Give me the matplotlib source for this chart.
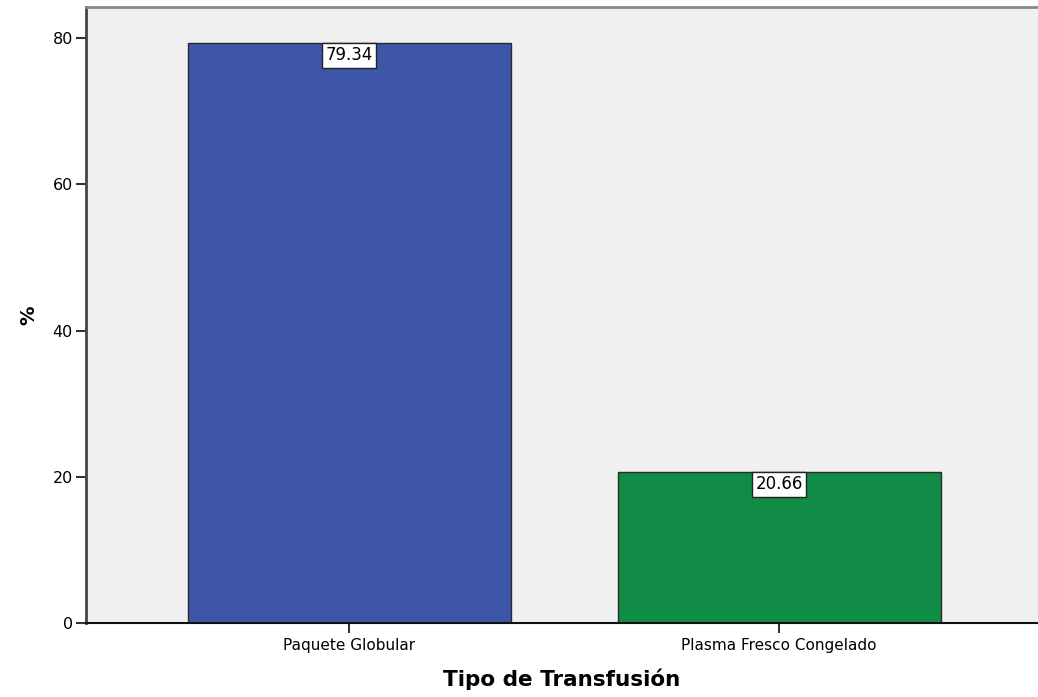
'''SPSS-style bar chart: Tipo de Transfusión.'''
import matplotlib.pyplot as plt

CATEGORIES = ['Paquete Globular', 'Plasma Fresco Congelado']
PERCENTS = [79.34, 20.66]
COLORS = ['#3D56A8', '#118C47']
Y_TICKS = [0, 20, 40, 60, 80]


def main():
    '''Main.'''
    fig = plt.figure(figsize=(10.38, 6.97), dpi=100)
    ax = fig.add_axes([86 / 1038, 74 / 697, 1 - 86 / 1038, 616 / 697])
    ax.set_facecolor('#F0F0F0')

    x = list(range(len(CATEGORIES)))
    ax.bar(x, PERCENTS, width=0.751, color=COLORS,
           edgecolor='#2A2A2A', linewidth=1.0, zorder=2)

    # value labels in white boxes just under the bar tops
    for xi, val in zip(x, PERCENTS):
        ax.annotate(f'{val:.2f}', (xi, val), xytext=(0, -9.0),
                    textcoords='offset points', ha='center', va='center',
                    fontsize=12, zorder=3,
                    bbox=dict(boxstyle='square,pad=0.2', fc='white',
                              ec='#222222', lw=1.0))

    ax.set_xlim(-0.612, 1.602)
    ax.set_ylim(0, 84.24)
    ax.set_xticks(x)
    ax.set_xticklabels(CATEGORIES, fontsize=11)
    ax.set_yticks(Y_TICKS)
    ax.set_yticklabels([str(t) for t in Y_TICKS], fontsize=11.5)
    ax.tick_params(axis='both', direction='out', length=7.5, width=1.5,
                   color='#333333', pad=2)
    ax.tick_params(axis='x', pad=3.5)

    ax.spines['left'].set_color('#444444')
    ax.spines['left'].set_linewidth(2)
    ax.spines['bottom'].set_color('#111111')
    ax.spines['bottom'].set_linewidth(1.5)
    ax.spines['top'].set_color('#888888')
    ax.spines['top'].set_linewidth(2)
    ax.spines['right'].set_visible(False)

    ax.set_xlabel('Tipo de Transfusión', fontsize=15.5, fontweight='bold',
                  labelpad=11)
    ax.set_ylabel('%', fontsize=14, fontweight='bold', labelpad=10)

    fig.savefig('out.png', dpi=100)


if __name__ == '__main__':
    main()
